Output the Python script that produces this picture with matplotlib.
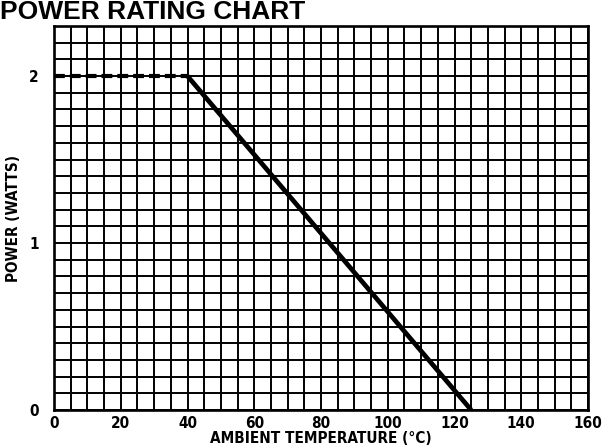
import matplotlib
matplotlib.use("Agg")
import matplotlib.pyplot as plt
import numpy as np

# Data
x_ticks = [0, 20, 40, 60, 80, 100, 120, 140, 160]
y_ticks = [0, 1, 2]
derate_temp = [40, 125]
derate_power = [2, 0]
flat_temp = [0, 40]
flat_power = [2, 2]

plt.rcParams['font.family'] = ['DejaVu Sans']

fig = plt.figure(figsize=(6.10, 4.47), dpi=100)
W, H = 610, 447
left, right, top, bottom = 54, 588, 26, 410
ax = fig.add_axes([left / W, (H - bottom) / H, (right - left) / W, (bottom - top) / H])

ax.set_xlim(0, 160)
ax.set_ylim(0, 2.3)
ax.set_xticks(x_ticks)
ax.set_yticks(y_ticks)
ax.set_xticks(np.arange(0, 161, 5), minor=True)
ax.set_yticks(np.arange(0, 2.31, 0.1), minor=True)
ax.grid(which='both', color='black', linewidth=1.4)
ax.set_axisbelow(True)
ax.tick_params(which='both', length=0)
ax.tick_params(axis='x', pad=4)
ax.tick_params(axis='y', pad=11)
for lbl in ax.get_xticklabels() + ax.get_yticklabels():
    lbl.set_fontweight('bold')
    lbl.set_fontstretch('condensed')
    lbl.set_fontsize(11)
for s in ax.spines.values():
    s.set_linewidth(1.9)

ax.plot(derate_temp, derate_power, color='black', linewidth=3.4, solid_capstyle='butt')
ax.plot(flat_temp, flat_power, color='black', linewidth=3.0, dashes=(2.6, 1.2))

ax.set_xlabel('AMBIENT TEMPERATURE (°C)', fontsize=11, fontweight='bold',
              fontstretch='condensed', labelpad=0)
ax.set_ylabel('POWER (WATTS)', fontsize=11, fontweight='bold',
              fontstretch='condensed', labelpad=6)

fig.text(0.0, (H - 19) / H, 'POWER RATING CHART', fontsize=19, fontweight='bold',
         family=['Liberation Sans', 'DejaVu Sans'], ha='left', va='baseline')

fig.savefig('out.png', dpi=100)
